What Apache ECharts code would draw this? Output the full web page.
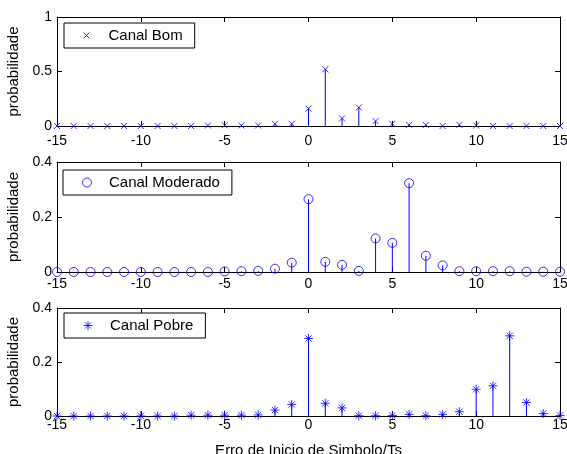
<!DOCTYPE html>
<html>
<head>
<meta charset="utf-8">
<script src="https://cdn.jsdelivr.net/npm/echarts@6/dist/echarts.min.js"></script>
<style>
  html, body { margin: 0; padding: 0; background: #fff; }
  #chart { width: 567px; height: 454px; }
</style>
</head>
<body>
<div id="chart"></div>
<script>
// erro de inicio de simbolo (em Ts)
var erro = [-15, -14, -13, -12, -11, -10, -9, -8, -7, -6, -5, -4, -3, -2, -1,
  0, 1, 2, 3, 4, 5, 6, 7, 8, 9, 10, 11, 12, 13, 14, 15]

var canalBom = [0, 0, 0, 0, 0, 0, 0, 0, 0, 0.005, 0.007, 0.005, 0.005, 0.02, 0.02,
  0.16, 0.52, 0.07, 0.17, 0.045, 0.02, 0.01, 0.01, 0, 0.01, 0.005, 0, 0, 0, 0, 0]

var canalModerado = [0, 0, 0, 0, 0, 0, 0, 0, 0, 0, 0.002, 0.003, 0.004, 0.012, 0.034,
  0.265, 0.037, 0.026, 0.004, 0.122, 0.106, 0.323, 0.059, 0.024, 0.003, 0.003, 0.003, 0.003, 0.001, 0.001, 0.001]

var canalPobre = [0, 0, 0, 0, 0, 0, 0, 0, 0.003, 0.003, 0.003, 0.003, 0.004, 0.022, 0.043,
  0.287, 0.047, 0.03, 0.001, 0.001, 0.002, 0.006, 0.001, 0.006, 0.016, 0.099, 0.112, 0.297, 0.05, 0.009, 0.002]

var yMax = [1, 0.4, 0.4]
var yStep = [0.5, 0.2, 0.2]

var font = "'Liberation Sans', Arial, sans-serif"
var azul = '#0000ff'

var painéis = [
  { nome: 'Canal Bom', dados: canalBom, symbol: 'path://M0,0L10,10M10,0L0,10', size: 6,
    top: 17, height: 109, labelMargin: 8, legTop: 23, legLeft: 64 },
  { nome: 'Canal Moderado', dados: canalModerado, symbol: 'circle', size: 9,
    top: 162, height: 110, labelMargin: 5, legTop: 170, legLeft: 63 },
  { nome: 'Canal Pobre', dados: canalPobre, symbol: 'path://M5,0L5,10M0,5L10,5M1.5,1.5L8.5,8.5M8.5,1.5L1.5,8.5', size: 9,
    top: 308, height: 108, labelMargin: 2, legTop: 313, legLeft: 64 }
]

var chart = echarts.init(document.getElementById('chart'))

var grid = [], xAxis = [], yAxis = [], series = [], legend = []
var linha = { color: '#000', width: 1 }

painéis.forEach(function (p, i) {
  var pares = erro.map(function (x, k) { return [x, p.dados[k]] })
  var estilo = { color: 'none', borderColor: azul, borderWidth: 1 }

  grid.push({ left: 57, right: 7, top: p.top, height: p.height, outerBoundsMode: 'none' })

  xAxis.push({
    gridIndex: i, type: 'value', min: -15, max: 15, interval: 5, position: 'bottom',
    axisLine: { onZero: false, lineStyle: linha },
    axisTick: { inside: true, length: 5, lineStyle: linha },
    axisLabel: { color: '#000', fontSize: 14, fontFamily: font, margin: p.labelMargin },
    splitLine: { show: false },
    name: i === 2 ? 'Erro de Inicio de Simbolo/Ts' : '',
    nameLocation: 'middle', nameGap: 27,
    nameTextStyle: { color: '#000', fontSize: 15, fontFamily: font }
  })
  xAxis.push({
    gridIndex: i, type: 'value', min: -15, max: 15, interval: 5, position: 'top',
    axisLine: { onZero: false, lineStyle: linha },
    axisTick: { inside: true, length: 5, lineStyle: linha },
    axisLabel: { show: false }, splitLine: { show: false }
  })

  yAxis.push({
    gridIndex: i, type: 'value', min: 0, max: yMax[i], interval: yStep[i], position: 'left',
    axisLine: { show: true, onZero: false, lineStyle: linha },
    axisTick: { show: true, inside: true, length: 5, lineStyle: linha },
    axisLabel: { color: '#000', fontSize: 14, fontFamily: font, margin: 5 },
    splitLine: { show: false },
    name: 'probabilidade', nameLocation: 'middle', nameRotate: 90, nameGap: 31,
    nameTextStyle: { color: '#000', fontSize: 15, fontFamily: font }
  })
  yAxis.push({
    gridIndex: i, type: 'value', min: 0, max: yMax[i], interval: yStep[i], position: 'right',
    axisLine: { show: true, onZero: false, lineStyle: linha },
    axisTick: { show: true, inside: true, length: 5, lineStyle: linha },
    axisLabel: { show: false }, splitLine: { show: false }
  })

  // hastes
  series.push({
    type: 'bar', xAxisIndex: 2 * i, yAxisIndex: 2 * i, data: pares,
    barWidth: 1, itemStyle: { color: azul }, silent: true
  })
  // marcadores
  series.push({
    type: 'scatter', name: p.nome, xAxisIndex: 2 * i, yAxisIndex: 2 * i, data: pares,
    symbol: p.symbol, symbolSize: p.size, itemStyle: estilo, clip: false, z: 3
  })

  legend.push({
    data: [{ name: p.nome, icon: p.symbol, itemStyle: estilo }],
    left: p.legLeft, top: p.legTop,
    itemWidth: 34, itemHeight: p.size,
    padding: [5, 12, 5, 17],
    borderColor: '#000', borderWidth: 1, backgroundColor: '#fff',
    selectedMode: false,
    textStyle: { color: '#000', fontSize: 15, fontFamily: font }
  })
})

chart.setOption({
  backgroundColor: '#fff',
  animation: false,
  grid: grid,
  xAxis: xAxis,
  yAxis: yAxis,
  legend: legend,
  series: series
})
</script>
</body>
</html>
